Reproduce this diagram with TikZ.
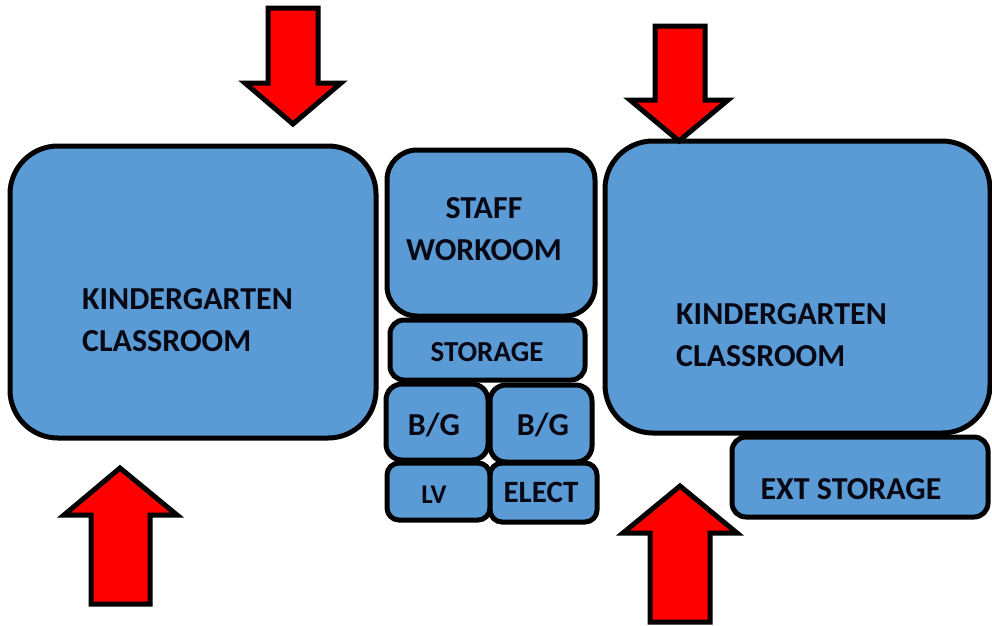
\documentclass[tikz,border=0pt]{standalone}
\usepackage{fontspec}
\setmainfont{Carlito}
\definecolor{roomblue}{RGB}{91,155,213}
\definecolor{labelink}{RGB}{8,8,20}
\tikzset{
  room/.style={draw=black,fill=roomblue,line width=5pt},
  flow/.style={draw=black,fill=red,line width=5pt,miter limit=10},
  lbl/.style={font=\bfseries\fontsize{#1}{#1}\selectfont,text=labelink,inner sep=0pt},
  lbl/.default=32
}
\begin{document}
\begin{tikzpicture}[x=1pt,y=-1pt]
\useasboundingbox (0,0) rectangle (992,625);

\draw[room,rounded corners=48pt] (10,146) rectangle (376,438);
\draw[room,rounded corners=30pt] (387,150) rectangle (595,316);
\draw[room,rounded corners=14pt] (390,320) rectangle (585,380);
\draw[room,rounded corners=16pt] (386,384) rectangle (488,460);
\draw[room,rounded corners=16pt] (490,385) rectangle (592,462);
\draw[room,rounded corners=12pt] (387,463) rectangle (490,520);
\draw[room,rounded corners=12pt] (490,463) rectangle (597,522);
\draw[room,rounded corners=48pt] (605,141) rectangle (990,433);
\draw[room,rounded corners=14pt] (732,437) rectangle (988,517);

% arrows
\draw[flow] (268,8)--++(50,0)--++(0,75)--++(23,0)--++(-48,41)--++(-48,-41)--++(23,0)--cycle;
\draw[flow] (655,26)--++(50,0)--++(0,74)--++(23,0)--++(-49,41)--++(-49,-41)--++(25,0)--cycle;
\draw[flow] (91,604)--++(59,0)--++(0,-89)--++(27,0)--++(-57,-47)--++(-56,47)--++(27,0)--cycle;
\draw[flow] (650,622)--++(60,0)--++(0,-89)--++(27,0)--++(-57,-47)--++(-57,47)--++(27,0)--cycle;

\node[lbl,anchor=west] (kinderA) at (82,299) {KINDERGARTEN};
\node[lbl,anchor=west] (classA) at (82,341) {CLASSROOM};
\node[lbl] (staff) at (484,208) {STAFF};
\node[lbl] (work) at (484,250) {WORKOOM};
\node[lbl=29] (stor) at (487,352) {STORAGE};
\node[lbl] (bgA) at (434,425) {B/G};
\node[lbl] (bgB) at (543,425) {B/G};
\node[lbl=27] (lv) at (434,495) {LV};
\node[lbl=31] (elect) at (541,492) {ELECT};
\node[lbl,anchor=west] (kinderB) at (676,314) {KINDERGARTEN};
\node[lbl,anchor=west] (classB) at (676,356) {CLASSROOM};
\node[lbl] (ext) at (851,489) {EXT STORAGE};
\end{tikzpicture}
\end{document}
